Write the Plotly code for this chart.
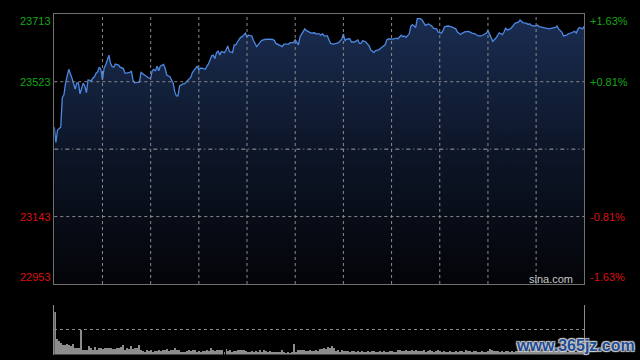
import numpy as np
import plotly.graph_objects as go

# ---------------- data ----------------
prev_close = 23333
price_ticks = [23713, 23523, 23143, 22953]

minutes = [0, 1, 2, 4, 5, 6, 7, 9, 11, 12, 13, 14, 15, 16, 18, 19, 20, 21, 23, 24,
           25, 26, 27, 28, 29, 30, 31, 32, 33, 34, 35, 36, 37, 38, 40, 41, 43, 44, 45, 47,
           48, 49, 50, 53, 54, 56, 57, 59, 60, 61, 62, 63, 64, 65, 66, 68, 69, 70, 72, 74,
           75, 76, 77, 78, 80, 81, 83, 84, 85, 86, 87, 89, 90, 91, 92, 94, 95, 96, 98, 99,
           100, 101, 102, 103, 104, 106, 107, 108, 109, 111, 112, 113, 114, 116, 117, 118, 119, 120, 121, 123,
           124, 126, 127, 129, 131, 133, 136, 137, 138, 140, 142, 143, 146, 147, 149, 150, 151, 152, 153, 155,
           156, 157, 159, 160, 162, 163, 165, 166, 167, 168, 170, 171, 172, 174, 176, 177, 179, 180, 181, 182,
           184, 185, 187, 189, 190, 191, 192, 194, 196, 197, 199, 200, 202, 203, 204, 206, 207, 208, 210, 211,
           213, 214, 216, 217, 218, 219, 221, 222, 223, 224, 225, 226, 228, 229, 231, 232, 233, 235, 236, 238,
           239, 241, 242, 243, 245, 247, 248, 250, 251, 253, 254, 256, 258, 260, 262, 264, 266, 268, 269, 270,
           271, 272, 273, 275, 276, 277, 279, 280, 281, 282, 284, 286, 287, 289, 290, 291, 292, 294, 295, 296,
           297, 299, 301, 302, 304, 306, 308, 310, 312, 313, 314, 316, 317, 319, 320, 322, 324, 325, 326, 327,
           329, 330]

prices = [23395, 23352, 23387, 23395, 23479, 23486, 23519, 23558, 23533, 23514, 23502, 23520, 23520, 23489, 23519, 23511, 23492, 23528, 23526, 23533,
          23537, 23547, 23551, 23564, 23558, 23528, 23561, 23570, 23584, 23598, 23575, 23566, 23564, 23573, 23570, 23564, 23560, 23547, 23547, 23549,
          23553, 23528, 23520, 23522, 23549, 23541, 23539, 23533, 23533, 23554, 23558, 23553, 23567, 23554, 23567, 23572, 23561, 23542, 23537, 23519,
          23495, 23483, 23483, 23511, 23517, 23517, 23526, 23530, 23536, 23549, 23556, 23567, 23556, 23561, 23561, 23558, 23567, 23573, 23596, 23598,
          23588, 23605, 23609, 23598, 23608, 23605, 23613, 23624, 23608, 23605, 23627, 23627, 23635, 23648, 23650, 23654, 23660, 23650, 23654, 23652,
          23639, 23622, 23627, 23639, 23642, 23643, 23642, 23639, 23631, 23626, 23622, 23629, 23629, 23633, 23633, 23641, 23633, 23627, 23650, 23667,
          23672, 23667, 23663, 23660, 23661, 23658, 23658, 23654, 23658, 23652, 23652, 23641, 23631, 23629, 23633, 23633, 23643, 23658, 23639, 23643,
          23644, 23635, 23635, 23641, 23631, 23631, 23639, 23635, 23624, 23613, 23605, 23611, 23613, 23618, 23620, 23627, 23641, 23644, 23643, 23643,
          23646, 23644, 23654, 23650, 23652, 23648, 23658, 23680, 23684, 23680, 23676, 23701, 23701, 23697, 23682, 23684, 23686, 23680, 23674, 23672,
          23663, 23660, 23667, 23678, 23680, 23678, 23676, 23672, 23663, 23656, 23660, 23664, 23665, 23660, 23658, 23652, 23652, 23656, 23660, 23667,
          23658, 23645, 23637, 23646, 23652, 23661, 23656, 23663, 23674, 23669, 23672, 23682, 23688, 23691, 23697, 23693, 23689, 23688, 23684, 23686,
          23682, 23680, 23682, 23678, 23676, 23674, 23672, 23674, 23676, 23680, 23672, 23663, 23652, 23654, 23658, 23661, 23665, 23660, 23671, 23676,
          23672, 23680]

volumes = [86, 32, 28, 24, 19, 19, 21, 20, 18, 21, 14, 13, 14, 50, 10, 10, 10, 17, 13, 10,
           15, 10, 13, 13, 12, 13, 14, 14, 13, 12, 12, 13, 14, 15, 19, 10, 13, 11, 17, 11,
           13, 13, 19, 9, 7, 5, 9, 7, 9, 5, 7, 7, 9, 7, 9, 10, 11, 7, 9, 10,
           13, 9, 9, 5, 5, 5, 7, 9, 7, 9, 10, 5, 7, 5, 7, 7, 9, 7, 14, 9,
           7, 10, 9, 9, 10, 5, 12, 7, 9, 5, 7, 7, 9, 10, 9, 9, 7, 5, 5, 7,
           5, 7, 5, 9, 5, 10, 7, 5, 7, 5, 5, 5, 5, 5, 10, 5, 3, 5, 3, 5,
           22, 5, 9, 10, 9, 10, 7, 7, 9, 7, 7, 9, 7, 12,
           12, 14, 12, 16, 14, 17, 14, 8, 9, 6, 10, 8, 7, 8, 6, 8, 7, 6, 8, 6,
           7, 6, 6, 8, 6, 7, 8, 6, 6, 7, 6, 8, 6, 6, 7, 8, 6, 6, 9, 10,
           8, 7, 9, 7, 8, 10, 8, 9, 7, 8, 7, 9, 6, 7, 9, 8, 6, 7, 9, 8,
           6, 7, 6, 6, 7, 6, 6, 7, 6, 7, 8, 6, 9, 7, 8, 6, 7, 8, 6, 6,
           7, 6, 6, 8, 11, 9, 8, 7, 8, 6, 7, 6, 7, 8, 6, 7, 6, 8,
           7, 6, 8, 7, 6, 7, 8, 6, 7, 9, 7, 6, 8, 7, 6, 7, 8, 7, 6, 7,
           8, 6, 7, 8, 7, 6, 7, 8, 7, 6, 7, 8, 7, 6]

# ---------------- styling ----------------
GREEN = "#13a813"
RED = "#d81010"
GRID = "#8a8a8a"
BORDER = "#707070"
FONT = "Liberation Sans, Arial, sans-serif"

lo, hi = min(price_ticks), max(price_ticks)
t_end = minutes[-1]
vol_x = np.linspace(0, t_end, len(volumes))
time_grid = list(range(30, t_end, 30))
price_grid = [price_ticks[1], price_ticks[2]]

fig = go.Figure()

# baseline for the gradient fill
fig.add_trace(go.Scatter(x=[minutes[0], t_end], y=[lo, lo], mode="lines",
                         line=dict(width=0, color="rgba(0,0,0,0)"),
                         hoverinfo="skip", showlegend=False))
fig.add_trace(go.Scatter(x=minutes, y=prices, mode="lines",
                         line=dict(color="#4d88e2", width=1.3),
                         fill="tonexty",
                         fillgradient=dict(type="vertical", start=lo, stop=hi,
                                           colorscale=[[0, "#030408"], [0.5, "#0d1628"], [1, "#1a2d52"]]),
                         showlegend=False, hoverinfo="skip"))

fig.add_trace(go.Bar(x=vol_x, y=volumes, xaxis="x2", yaxis="y2",
                     width=0.62, marker=dict(color="#8c8c8c", line=dict(width=0)),
                     showlegend=False, hoverinfo="skip"))

x_dom = [54.3 / 640, 584.3 / 640]
fig.update_layout(
    width=640, height=360,
    margin=dict(l=0, r=0, t=0, b=0),
    paper_bgcolor="black", plot_bgcolor="black",
    bargap=0,
    xaxis=dict(domain=x_dom, range=[0, t_end], showticklabels=False, showgrid=False,
               zeroline=False, showline=True, mirror=True, linecolor=BORDER, linewidth=1,
               ticks="", anchor="y", layer="above traces"),
    yaxis=dict(domain=[(360 - 284) / 360, (360 - 14.3) / 360], range=[lo, hi],
               showticklabels=False, showgrid=False,
               zeroline=False, showline=True, mirror=True, linecolor=BORDER, linewidth=1,
               ticks="", anchor="x", layer="above traces"),
    xaxis2=dict(domain=x_dom, range=[-0.6, t_end + 0.3], showticklabels=False, showgrid=False,
                zeroline=False, showline=False, ticks="", anchor="y2"),
    yaxis2=dict(domain=[(360 - 354.5) / 360, (360 - 305) / 360], range=[0, 100],
                tickvals=[50, 100], showticklabels=False, showgrid=True, gridcolor=GRID,
                griddash="dot", gridwidth=1, zeroline=False, showline=True, mirror=True,
                linecolor="#8a8a8a", linewidth=1, ticks="", anchor="x2"),
    showlegend=False,
)

# grid lines drawn over the filled area
for t in time_grid:
    fig.add_shape(type="line", xref="x", yref="y domain", x0=t, x1=t, y0=0, y1=1,
                  line=dict(color=GRID, width=1, dash="dot"), layer="above")
for v in price_grid:
    fig.add_shape(type="line", xref="x domain", yref="y", x0=0, x1=1, y0=v, y1=v,
                  line=dict(color=GRID, width=1, dash="dot"), layer="above")

# previous close dash-dot line
fig.add_shape(type="line", xref="x domain", yref="y", x0=0, x1=1, y0=prev_close, y1=prev_close,
              line=dict(color="#a0a0a0", width=1, dash="4px,3px,1px,3px"), layer="above")

# axis labels
for v in price_ticks:
    col = GREEN if v > prev_close else RED
    pct = (v - prev_close) / prev_close * 100
    if v == hi:
        ya = "top"
    elif v == lo:
        ya = "bottom"
    else:
        ya = "middle"
    fig.add_annotation(xref="paper", yref="y", x=52 / 640, y=v, text=str(v),
                       showarrow=False, xanchor="right", yanchor=ya,
                       font=dict(family=FONT, size=11, color=col), borderpad=0)
    fig.add_annotation(xref="paper", yref="y", x=589 / 640, y=v, text=f"{pct:+.2f}%",
                       showarrow=False, xanchor="left", yanchor=ya,
                       font=dict(family=FONT, size=11, color=col), borderpad=0)

fig.add_annotation(xref="paper", yref="paper", x=574 / 640, y=(360 - 278.7) / 360,
                   text="sina.com", showarrow=False, xanchor="right", yanchor="middle",
                   font=dict(family=FONT, size=11, color="#c8c8c8"), borderpad=0)

fig.add_annotation(xref="paper", yref="paper", x=575 / 640, y=(360 - 345.5) / 360,
                   text="<b>www.365jz.com</b>", showarrow=False, xanchor="center", yanchor="middle",
                   font=dict(family=FONT, size=16, color="#1f4c94",
                             shadow="1px 1px 1px #d0d0d0, -1px -1px 1px #d0d0d0, 1px -1px 1px #d0d0d0, -1px 1px 1px #d0d0d0"),
                   borderpad=0)

fig.write_html("out.html", config={"displayModeBar": False},
               post_script="document.body.style.margin='0';document.body.style.overflow='hidden';")
